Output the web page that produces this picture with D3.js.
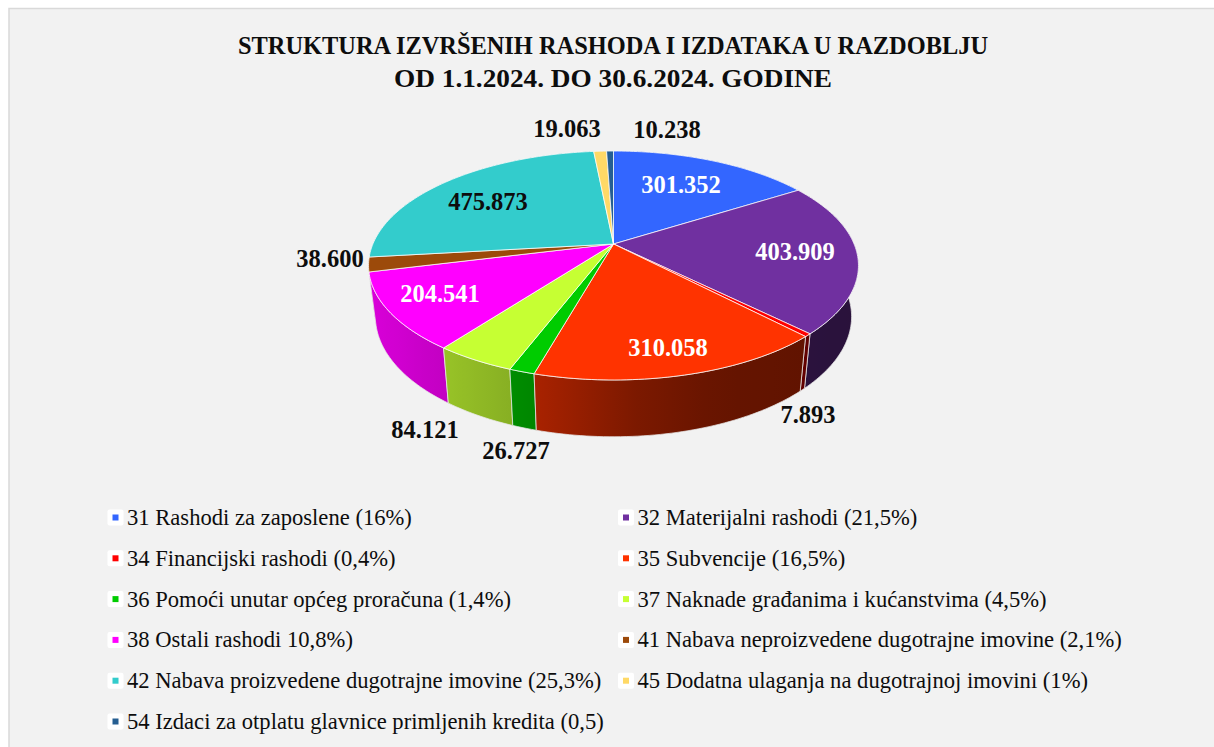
<!DOCTYPE html>
<html>
<head>
<meta charset="utf-8">
<script src="https://cdn.jsdelivr.net/npm/d3@7"></script>
<style>
html, body { margin: 0; padding: 0; background: #fff; }
svg { display: block; font-family: "Liberation Serif", serif; }
</style>
</head>
<body>
<div id="chart"></div>
<script>
// data
const titleLines = ['STRUKTURA IZVRŠENIH RASHODA I IZDATAKA U RAZDOBLJU', 'OD 1.1.2024. DO 30.6.2024. GODINE'];
const values = [301352, 403909, 7893, 310058, 26727, 84121, 204541, 38600, 475873, 19063, 10238];
const valueLabels = ['301.352', '403.909', '7.893', '310.058', '26.727', '84.121', '204.541', '38.600', '475.873', '19.063', '10.238'];
const colors = ['#3366ff', '#7030a0', '#ff0000', '#ff3300', '#00cc00', '#c6ff33', '#ff00ff', '#9c4a0a', '#33cccc', '#ffd966', '#255e91'];
const legendLabels = [
    '31 Rashodi za zaposlene (16%)',
    '32 Materijalni rashodi (21,5%)',
    '34 Financijski rashodi (0,4%)',
    '35 Subvencije (16,5%)',
    '36 Pomoći unutar općeg proračuna (1,4%)',
    '37 Naknade građanima i kućanstvima (4,5%)',
    '38 Ostali rashodi 10,8%)',
    '41 Nabava neproizvedene dugotrajne imovine (2,1%)',
    '42 Nabava proizvedene dugotrajne imovine (25,3%)',
    '45 Dodatna ulaganja na dugotrajnoj imovini (1%)',
    '54 Izdaci za otplatu glavnice primljenih kredita (0,5)'
];

const width = 1214;
const height = 747;

const svg = d3.select('#chart')
    .append('svg')
    .attr('width', width)
    .attr('height', height);

const defs = svg.append('defs');

// panel
svg.append('rect').attr('x', 9).attr('y', 8.5).attr('width', width).attr('height', height)
    .attr('fill', '#f2f2f2').attr('stroke', '#d9d9d9').attr('stroke-width', 1.5);

// title, squeezed to the widths of the original font
const titleWidths = [750, 438];
svg.append('g').selectAll('text')
    .data(titleLines)
    .enter()
    .append('text')
    .attr('x', 613)
    .attr('y', (d, i) => 54 + i * 32.5)
    .attr('text-anchor', 'middle')
    .attr('font-size', 25.5)
    .attr('font-weight', 'bold')
    .attr('fill', '#0d0d0d')
    .attr('textLength', (d, i) => titleWidths[i])
    .attr('lengthAdjust', 'spacingAndGlyphs')
    .text(d => d);

// perspective of the tilted disc: centre at (613.5, 244), far rim y 151, near rim y 380
const cx = 613.5;
const cy = 244;
const persp = -0.1878;
const spreadX = 240.6;
const spreadY = 64.6;

function rim(angle, level) {
    const u = Math.sin(angle);
    const v = -Math.cos(angle);
    const w = 1 + persp * v;
    const x = spreadX * u / w;
    const y = (cy + spreadY * v) / w - cy;
    if (level === 0) return [cx + x, cy + y];
    // bottom face sits further from the viewer
    return [cx + 0.972 * x, cy + 50 + 1.05 * y];
}

function arcPoints(a0, a1, level) {
    const n = Math.max(2, Math.ceil(Math.abs(a1 - a0) / 0.02));
    return d3.range(n + 1).map(i => rim(a0 + (a1 - a0) * i / n, level));
}

const lineGen = d3.line();
const pie = d3.pie().sort(null).value(d => d);
const arcs = pie(values).map((d, i) => ({ ...d, i: i, mid: (d.startAngle + d.endAngle) / 2 }));

// side wall shading goes from lit on the left to dark on the right
const shade = d3.scaleLinear().domain([-245, -78, 27, 107, 245]).range([0.85, 0.66, 0.48, 0.4, 0.37]);

function wallColor(color, x) {
    const c = d3.rgb(color);
    const k = shade(x - cx);
    return d3.rgb(c.r * k, c.g * k, c.b * k).formatHex();
}

const wallOrder = arcs.slice().sort((a, b) => Math.abs(b.mid - Math.PI) - Math.abs(a.mid - Math.PI));

wallOrder.forEach(d => {
    const top = arcPoints(d.startAngle, d.endAngle, 0);
    const bottom = arcPoints(d.endAngle, d.startAngle, 1);
    const xs = top.map(p => p[0]);
    const x0 = d3.min(xs);
    const x1 = d3.max(xs) + 0.01;
    const grad = defs.append('linearGradient')
        .attr('id', 'wall' + d.i)
        .attr('gradientUnits', 'userSpaceOnUse')
        .attr('x1', x0).attr('x2', x1).attr('y1', 0).attr('y2', 0);
    d3.range(9).forEach(s => {
        const t = s / 8;
        grad.append('stop')
            .attr('offset', t)
            .attr('stop-color', wallColor(colors[d.i], x0 + (x1 - x0) * t));
    });
    svg.append('path')
        .attr('d', lineGen(top.concat(bottom)) + 'Z')
        .attr('fill', 'url(#wall' + d.i + ')')
        .attr('stroke', '#e8e8e8')
        .attr('stroke-opacity', 0.75)
        .attr('stroke-width', 1);
});

// top face
svg.append('g').selectAll('path')
    .data(arcs)
    .enter()
    .append('path')
    .attr('d', d => lineGen([[cx, cy]].concat(arcPoints(d.startAngle, d.endAngle, 0))) + 'Z')
    .attr('fill', d => colors[d.i])
    .attr('stroke', '#fff')
    .attr('stroke-opacity', 0.75)
    .attr('stroke-width', 1)
    .attr('stroke-linejoin', 'round');

// value labels, anchored by hand like the manual label placement in the original
const labelX = [681, 795, 808, 668, 516, 425, 440, 330, 488, 567, 667];
const labelY = [193, 260, 423, 356, 459, 438, 302, 267, 210, 137, 138];
const labelFill = ['#fff', '#fff', '#0d0d0d', '#fff', '#0d0d0d', '#0d0d0d', '#fff', '#0d0d0d', '#0d0d0d', '#0d0d0d', '#0d0d0d'];

svg.append('g').selectAll('text')
    .data(valueLabels)
    .enter()
    .append('text')
    .attr('x', (d, i) => labelX[i])
    .attr('y', (d, i) => labelY[i])
    .attr('text-anchor', 'middle')
    .attr('font-size', 24.5)
    .attr('font-weight', 'bold')
    .attr('fill', (d, i) => labelFill[i])
    .text(d => d);

// legend, two columns
const legendCol = [107.5, 618];
const legendRow = d3.scaleLinear().domain([0, 5]).range([518, 722]);

const legend = svg.append('g').selectAll('g')
    .data(legendLabels)
    .enter()
    .append('g')
    .attr('transform', (d, i) => `translate(${legendCol[i % 2]},${legendRow(Math.floor(i / 2))})`);

legend.append('rect')
    .attr('x', 0).attr('y', -8.5).attr('width', 16).attr('height', 16).attr('rx', 2)
    .attr('fill', '#fff');

legend.append('rect')
    .attr('x', 5).attr('y', -3.5).attr('width', 6).attr('height', 6)
    .attr('fill', (d, i) => colors[i]);

legend.append('text')
    .attr('x', 19.5)
    .attr('y', 7)
    .attr('font-size', 22.6)
    .attr('fill', '#0d0d0d')
    .text(d => d);
</script>
</body>
</html>
